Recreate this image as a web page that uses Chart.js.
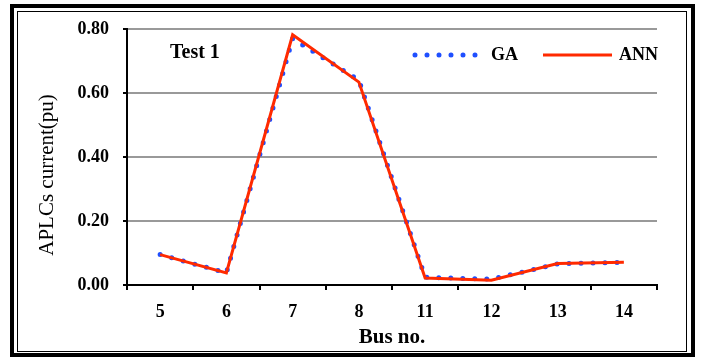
<!DOCTYPE html>
<html>
<head>
<meta charset="utf-8">
<script src="https://cdn.jsdelivr.net/npm/chart.js@4.4.0/dist/chart.umd.min.js"></script>
<style>
  html, body { margin: 0; padding: 0; background: #fff; }
  #wrap { position: relative; width: 704px; height: 358px; overflow: hidden; }
  #chart { position: absolute; left: 0; top: 0; }
  .frame { position: absolute; box-sizing: border-box; pointer-events: none; }
  .frame.outer { left: 10px; top: 4px; width: 685px; height: 353px; border: 4px solid #000; }
  .frame.inner { left: 17px; top: 11px; width: 670px; height: 341px; border: 1.5px solid #000; }
</style>
</head>
<body>
<div id="wrap">
  <canvas id="chart" width="704" height="358"></canvas>
  <div class="frame outer"></div>
  <div class="frame inner"></div>
</div>
<script>
// data
const categories = ['5', '6', '7', '8', '11', '12', '13', '14'];
const gaValues = [0.095, 0.038, 0.770, 0.640, 0.024, 0.018, 0.066, 0.071];
const annValues = [0.095, 0.038, 0.782, 0.634, 0.022, 0.015, 0.067, 0.071];
const yTickLabels = ['0.00', '0.20', '0.40', '0.60', '0.80'];
const chartTitle = 'Test 1';
const yTitle = 'APLCs current(pu)';

const SERIF = '"Liberation Serif", "Times New Roman", serif';
const BLUE = '#1f4fff';
const RED = '#ff2a00';

// "Test 1", the legend and the y title are placed by hand (legend sits inside the plot,
// y title is not centred on the axis in the original)
const overlay = {
  id: 'overlay',
  afterDraw(chart) {
    const ctx = chart.ctx;
    ctx.save();
    ctx.fillStyle = '#000';
    ctx.textBaseline = 'middle';
    ctx.font = 'bold 20px ' + SERIF;
    ctx.fillText(chartTitle, 170, 53);

    const items = [
      { ds: chart.data.datasets[0], x0: 415, x1: 476, tx: 491 },
      { ds: chart.data.datasets[1], x0: 543, x1: 612, tx: 619 }
    ];
    const y = 55;
    items.forEach(it => {
      ctx.save();
      ctx.strokeStyle = it.ds.borderColor;
      ctx.lineWidth = it.ds.borderWidth;
      ctx.lineCap = it.ds.borderCapStyle || 'butt';
      ctx.setLineDash(it.ds.borderDash || []);
      ctx.beginPath();
      ctx.moveTo(it.x0, y);
      ctx.lineTo(it.x1, y);
      ctx.stroke();
      ctx.restore();
      ctx.font = 'bold 18px ' + SERIF;
      ctx.fillText(it.ds.label, it.tx, y);
    });

    ctx.save();
    ctx.translate(47, 175);
    ctx.rotate(-Math.PI / 2);
    ctx.textAlign = 'center';
    ctx.font = '21px ' + SERIF;
    ctx.fillText(yTitle, 0, 0);
    ctx.restore();
    ctx.restore();
  }
};

new Chart(document.getElementById('chart'), {
  type: 'line',
  data: {
    labels: categories,
    datasets: [
      {
        label: 'GA',
        data: gaValues,
        borderColor: BLUE,
        backgroundColor: BLUE,
        borderWidth: 5,
        borderDash: [0, 12],
        borderCapStyle: 'round',
        pointRadius: 0,
        tension: 0,
        order: 1
      },
      {
        label: 'ANN',
        data: annValues,
        borderColor: RED,
        backgroundColor: RED,
        borderWidth: 3,
        pointRadius: 0,
        tension: 0,
        order: 0
      }
    ]
  },
  options: {
    responsive: false,
    animation: false,
    events: [],
    layout: { padding: { left: 20, right: 47, top: 29, bottom: 0 } },
    plugins: {
      legend: { display: false },
      tooltip: { enabled: false }
    },
    scales: {
      x: {
        offset: true,
        afterFit: (s) => { s.height = 73; },
        grid: {
          offset: true,
          drawOnChartArea: false,
          tickLength: 5,
          tickColor: '#000',
          lineWidth: 2
        },
        border: { color: '#000', width: 2 },
        ticks: {
          color: '#000',
          padding: 12,
          maxRotation: 0,
          font: { family: SERIF, size: 18, weight: 'bold' }
        },
        title: {
          display: true,
          text: 'Bus no.',
          color: '#000',
          padding: { top: 0, bottom: 8 },
          font: { family: SERIF, size: 21, weight: 'bold' }
        }
      },
      y: {
        min: 0,
        max: 0.8,
        afterFit: (s) => { s.width = 107; },
        grid: {
          color: (c) => (c.tick && c.tick.value === 0 ? 'rgba(0,0,0,0)' : '#999'),
          lineWidth: 2,
          tickLength: 4,
          tickColor: '#000'
        },
        border: { color: '#000', width: 2 },
        ticks: {
          stepSize: 0.2,
          color: '#000',
          padding: 14,
          font: { family: SERIF, size: 18, weight: 'bold' },
          callback: (v) => yTickLabels[Math.round(v / 0.2)]
        },
        title: { display: false }
      }
    }
  },
  plugins: [overlay]
});
</script>
</body>
</html>
